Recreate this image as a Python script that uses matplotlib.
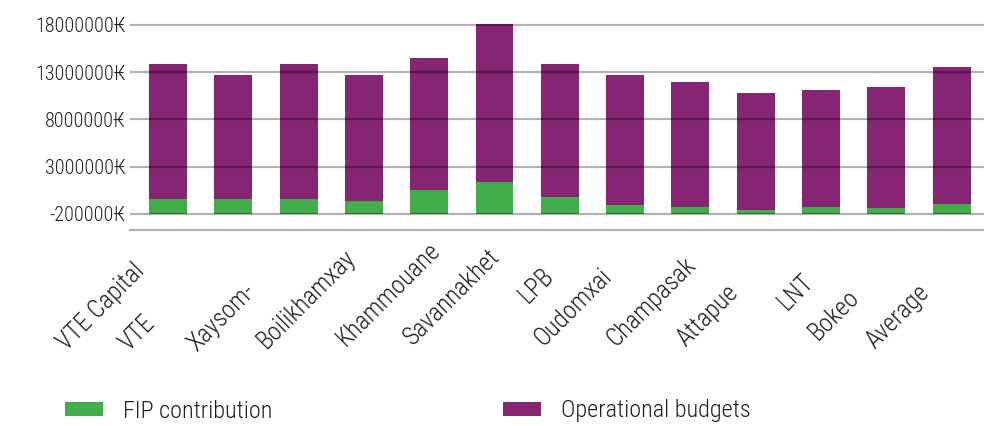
import numpy as np
import matplotlib.pyplot as plt

plt.rcParams['font.family'] = ['Roboto Condensed', 'Roboto', 'DejaVu Sans']
plt.rcParams['font.weight'] = 'light'

# values (in kip, stacked above the -2M baseline)
provinces = ["VTE Capital", "VTE", "Xaysom-", "Boilikhamxay", "Khammouane",
             "Savannakhet", "LPB", "Oudomxai", "Champasak", "Attapue",
             "LNT", "Bokeo", "Average"]
fip = np.array([1.55, 1.55, 1.55, 1.35, 2.5, 3.35, 1.75,
                0.9, 0.7, 0.4, 0.7, 0.6, 1.05]) * 1e6
operational = np.array([14.3, 13.15, 14.3, 13.35, 14.0, 16.75, 14.1,
                        13.8, 13.25, 12.4, 12.4, 12.8, 14.5]) * 1e6
ytick_vals = [-2000000, 3000000, 8000000, 13000000, 18000000]
ytick_text = ["-200000₭", "3000000₭", "8000000₭", "13000000₭", "18000000₭"]

GREEN = '#42ad4a'
PURPLE = '#852573'
TXT = '#1e1e1e'
BASE = -2000000

# where each (staggered) category label starts, pixels from tick at the axis line
label_start = [(-98, -125), (-101, -126), (-98, -126), (-94, -123), (-80, -121),
               (-78, -120), (-28, -78), (-78, -121), (-71, -121), (-66, -121),
               (-31, -85), (-65, -115), (-73, -123)]

fig = plt.figure(figsize=(9.84, 4.26), dpi=100)
ax = fig.add_axes([0.1321, 0.4608, 0.8679, 0.4939])

x = np.arange(len(provinces))
b1 = ax.bar(x, fip, 0.58, bottom=BASE, color=GREEN, zorder=1)
b2 = ax.bar(x, operational, 0.58, bottom=BASE + fip, color=PURPLE, zorder=1)

ax.set_xlim(-0.582, 12.496)
ax.set_ylim(-3.695e6, 18.6e6)
ax.set_yticks(ytick_vals)
ax.set_yticklabels(ytick_text, fontsize=14.5, color=TXT)
ax.tick_params(axis='y', length=0, pad=3)
ax.set_xticks([])

ax.set_axisbelow(False)
ax.yaxis.grid(True, color='black', alpha=0.3, linewidth=1.6)
for s in ['left', 'right', 'top']:
    ax.spines[s].set_visible(False)
ax.spines['bottom'].set_color((0, 0, 0, 0.3))
ax.spines['bottom'].set_linewidth(1.6)

for i, name in enumerate(provinces):
    dx, dy = label_start[i]
    ax.annotate(name, xy=(x[i], 0), xycoords=('data', 'axes fraction'),
                xytext=(dx, dy), textcoords='offset pixels',
                rotation=45, ha='left', va='bottom', rotation_mode='anchor',
                fontsize=18, color=TXT)

leg_kw = dict(frameon=False, fontsize=17.5, handlelength=1.56, handleheight=0.535,
              handletextpad=0.82, borderpad=0, borderaxespad=0, labelcolor=TXT)
fig.legend([b1], ["FIP contribution"], loc='center left',
           bbox_to_anchor=(65 / 984, 1 - 411 / 426), **leg_kw)
fig.legend([b2], ["Operational budgets"], loc='center left',
           bbox_to_anchor=(503 / 984, 1 - 411 / 426), **leg_kw)

fig.savefig('out.png', dpi=100)
